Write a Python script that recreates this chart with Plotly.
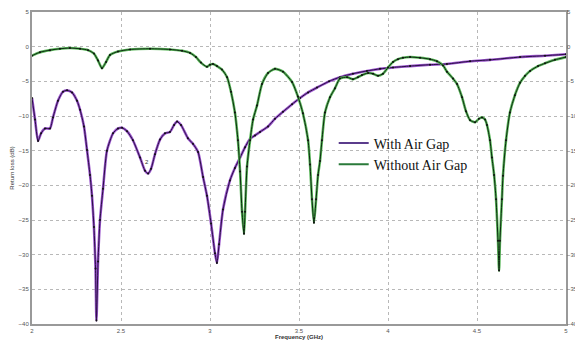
import plotly.graph_objects as go

# With Air Gap (GHz, dB)
freq_with = [2.000, 2.017, 2.034, 2.051, 2.073, 2.101, 2.118, 2.146, 2.174, 2.197, 2.225, 2.253,
             2.270, 2.292, 2.309, 2.326, 2.337, 2.348, 2.357, 2.362, 2.371, 2.382, 2.399, 2.421,
             2.455, 2.483, 2.506, 2.534, 2.567, 2.607, 2.635, 2.652, 2.669, 2.691, 2.719, 2.747,
             2.775, 2.798, 2.815, 2.837, 2.876, 2.904, 2.933, 2.961, 2.983, 3.006, 3.028, 3.039,
             3.051, 3.073, 3.112, 3.140, 3.169, 3.197, 3.225, 3.253, 3.281, 3.326, 3.365, 3.410,
             3.461, 3.506, 3.551, 3.601, 3.669, 3.730, 3.803, 3.882, 3.955, 4.028, 4.124, 4.236,
             4.331, 4.461, 4.573, 4.742, 4.882, 5.000]
rl_with = [-7.4, -10.5, -13.6, -12.5, -11.8, -11.8, -10.2, -7.8, -6.5, -6.3, -6.6, -7.8,
           -9.1, -11.5, -14.9, -18.5, -21.5, -26.0, -32.0, -39.5, -31.0, -25.0, -20.5, -15.0,
           -12.5, -11.8, -11.7, -12.2, -13.5, -16.0, -17.9, -18.3, -17.6, -15.5, -13.4, -12.5,
           -12.3, -11.3, -10.8, -11.3, -13.2, -14.0, -15.2, -18.8, -21.5, -25.5, -29.8, -31.2,
           -28.5, -23.5, -19.3, -17.5, -16.0, -14.5, -13.3, -12.8, -12.3, -11.5, -10.4, -9.4,
           -8.3, -7.4, -6.6, -5.9, -5.0, -4.4, -3.9, -3.5, -3.2, -3.0, -2.8, -2.6,
           -2.5, -2.1, -1.9, -1.5, -1.3, -1.1]

# Without Air Gap (GHz, dB)
freq_without = [2.000, 2.045, 2.101, 2.157, 2.213, 2.270, 2.315, 2.348, 2.371, 2.393, 2.416, 2.438,
                2.483, 2.551, 2.663, 2.775, 2.843, 2.888, 2.921, 2.949, 2.983, 3.000, 3.017, 3.039,
                3.067, 3.096, 3.118, 3.140, 3.157, 3.169, 3.180, 3.191, 3.197, 3.208, 3.225, 3.242,
                3.264, 3.292, 3.326, 3.365, 3.410, 3.461, 3.494, 3.522, 3.551, 3.562, 3.573, 3.584,
                3.596, 3.607, 3.618, 3.629, 3.646, 3.674, 3.702, 3.730, 3.770, 3.803, 3.831, 3.854,
                3.888, 3.916, 3.944, 3.972, 4.000, 4.028, 4.056, 4.084, 4.124, 4.180, 4.236, 4.275,
                4.309, 4.331, 4.365, 4.388, 4.416, 4.438, 4.461, 4.489, 4.511, 4.528, 4.545, 4.556,
                4.573, 4.584, 4.596, 4.607, 4.618, 4.624, 4.629, 4.640, 4.646, 4.663, 4.685, 4.713,
                4.742, 4.770, 4.798, 4.843, 4.882, 4.938, 5.000]
rl_without = [-1.3, -0.8, -0.5, -0.3, -0.2, -0.3, -0.5, -1.0, -2.0, -3.1, -2.2, -1.2,
              -0.7, -0.4, -0.3, -0.4, -0.6, -0.9, -1.5, -2.3, -2.9, -2.6, -2.5, -2.8,
              -3.3, -4.4, -6.5, -9.5, -13.5, -18.0, -23.8, -27.0, -23.8, -17.3, -13.5, -10.5,
              -8.5, -5.4, -3.8, -3.2, -3.6, -5.1, -7.2, -9.6, -13.5, -17.0, -22.0, -25.4,
              -22.0, -18.5, -16.5, -13.5, -9.5, -7.3, -6.0, -4.6, -4.4, -4.7, -4.4, -4.1,
              -3.8, -3.9, -4.2, -3.9, -3.0, -2.2, -1.8, -1.6, -1.5, -1.6, -1.8, -2.1,
              -2.7, -3.6, -4.6, -5.4, -7.3, -9.3, -10.6, -10.9, -10.4, -10.2, -10.5, -11.3,
              -13.5, -16.0, -18.5, -22.0, -28.0, -32.3, -28.0, -22.0, -18.6, -13.5, -9.5, -7.0,
              -5.2, -4.2, -3.5, -2.8, -2.4, -1.9, -1.5]

x_ticks = [2, 2.5, 3, 3.5, 4, 4.5, 5]
x_ticklabels = ["2", "2.5", "3", "3.5", "4", "4.5", "5"]
y_ticks = [5, 0, -5, -10, -15, -20, -25, -30, -35, -40]

series = [
    ("With Air Gap", freq_with, rl_with, "#9a55cc", "#2a0f45", "#5b3c8c"),
    ("Without Air Gap", freq_without, rl_without, "#5cb85c", "#0c2a10", "#2a7a3a"),
]

fig = go.Figure()
for name, fx, fy, glow, core, legc in series:
    fig.add_trace(go.Scatter(x=fx, y=fy, mode="lines", showlegend=False, hoverinfo="skip",
                             line=dict(color=glow, width=2.6, shape="spline", smoothing=0.6)))
    fig.add_trace(go.Scatter(x=fx, y=fy, mode="lines+markers", showlegend=False,
                             line=dict(color=core, width=1.0, shape="spline", smoothing=0.6),
                             marker=dict(color="#111111", size=2.0)))
    fig.add_trace(go.Scatter(x=[None], y=[None], mode="lines", name=name,
                             line=dict(color=legc, width=2)))

# dummy trace on right axis so its labels are drawn
fig.add_trace(go.Scatter(x=[2, 5], y=[-40, 5], yaxis="y2", mode="markers", showlegend=False,
                         hoverinfo="skip", marker=dict(opacity=0)))

tickfont = dict(family="Arial, Liberation Sans", size=6, color="#555555")
fig.update_layout(
    width=583, height=343,
    margin=dict(l=24, r=25, t=4, b=27),
    paper_bgcolor="white", plot_bgcolor="white",
    font=dict(family="Arial, Liberation Sans", color="#333333"),
    xaxis=dict(range=[2, 5], tickvals=x_ticks, ticktext=x_ticklabels, tickfont=tickfont,
               showgrid=True, gridcolor="#b8b8b8", griddash="dot", gridwidth=1,
               showline=True, linecolor="#999999", linewidth=1.5, mirror=True, ticks="",
               zeroline=False, automargin=False,
               title=dict(text="<b>Frequency (GHz)</b>", font=dict(size=6, color="#333333"),
                          standoff=2)),
    yaxis=dict(range=[-40, 5], tickvals=y_ticks, tickfont=tickfont,
               showgrid=True, gridcolor="#b8b8b8", griddash="dot", gridwidth=1,
               showline=True, linecolor="#999999", linewidth=2, mirror=True, ticks="",
               zeroline=False, automargin=False,
               title=dict(text="Return loss (dB)", font=dict(size=6, color="#333333"),
                          standoff=4)),
    yaxis2=dict(range=[-40, 5], tickvals=y_ticks, tickfont=tickfont, overlaying="y",
                side="right", showgrid=False, zeroline=False, showline=False, ticks="",
                automargin=False),
    legend=dict(x=0.565, y=0.63, xanchor="left", yanchor="top", bgcolor="rgba(0,0,0,0)",
                font=dict(family="Liberation Serif, Times New Roman, serif", size=14, color="#111111"),
                tracegroupgap=0, itemwidth=30),
    annotations=[
        dict(x=2.648, y=-16.6, xref="x", yref="y", text="2", showarrow=False,
             font=dict(size=6, color="#333333")),
        dict(x=1.0, y=0.5, xref="paper", yref="paper", xanchor="left", xshift=10,
             text="S", showarrow=False, font=dict(size=6, color="#333333")),
    ],
)

fig.write_html("out.html")
